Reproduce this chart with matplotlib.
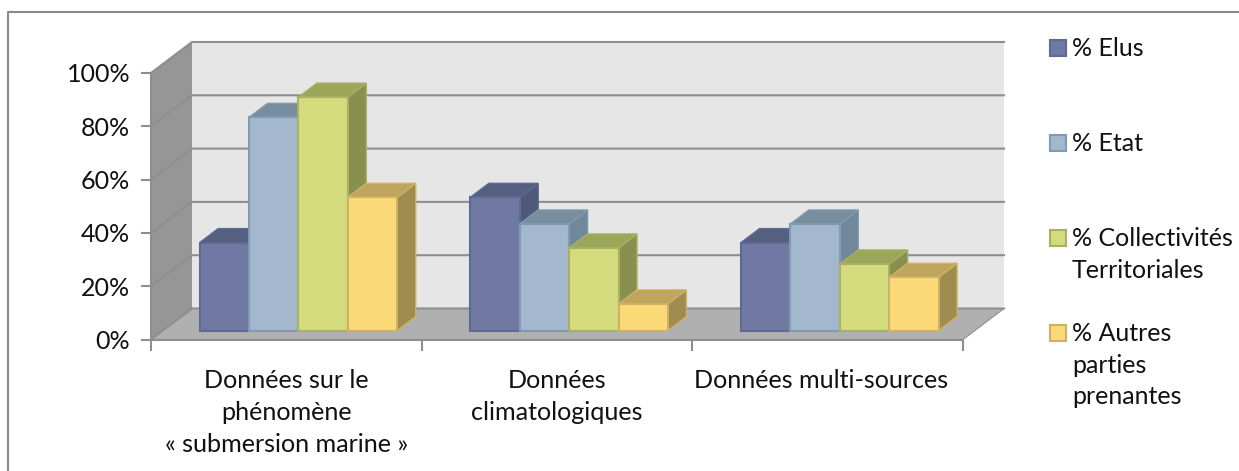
import matplotlib
matplotlib.use("Agg")
import matplotlib.pyplot as plt
from matplotlib.patches import Polygon, Rectangle

categories = ["Données sur le\nphénomène\n« submersion marine »", "Données\nclimatologiques", "Données multi-sources"]
series_names = ["% Elus", "% Etat", "% Collectivités\nTerritoriales", "% Autres\nparties\nprenantes"]
elus = [33, 50, 33]
etat = [80, 40, 40]
collectivites = [87.6, 31, 25]
autres = [50, 10, 20]
y_ticks = [0, 20, 40, 60, 80, 100]

series_values = [elus, etat, collectivites, autres]
front_colors = ["#7079A4", "#A3B8CF", "#D4DB7D", "#FCD977"]
edge_colors = ["#5F6A94", "#7F9BB2", "#A8B062", "#CDB265"]
top_colors = ["#555F80", "#788D9E", "#9CA65A", "#BFA55D"]
side_colors = ["#4F5878", "#71879A", "#89904F", "#A08C4E"]

W, H = 1239, 471
FX0, FX1, FY0, FY100 = 151, 963, 339.5, 73
DEPTH_X, DEPTH_Y = 41, 31

fig = plt.figure(figsize=(W / 100, H / 100), dpi=100, facecolor="white")
plt.rcParams["font.family"] = ["Lato", "DejaVu Sans"]
ax = fig.add_axes([FX0 / W, 1 - FY0 / H, (FX1 - FX0) / W, (FY0 - FY100) / H])
ax.set_xlim(0, 3)
ax.set_ylim(0, 100)
ax.patch.set_visible(False)

ux = (FX1 - FX0) / 3          # pixels per category
uy = (FY0 - FY100) / 100      # pixels per percent


def proj(x, y, d):
    """Project a front-plane point to depth fraction d (0 front, 1 back)."""
    return (x + d * DEPTH_X / ux, y + d * DEPTH_Y / uy)


def poly(pts, fc, ec="none", lw=0, z=1):
    ax.add_patch(Polygon(pts, closed=True, facecolor=fc, edgecolor=ec, linewidth=lw,
                         clip_on=False, zorder=z, joinstyle="miter"))


# walls and floor
poly([proj(0, 0, 1), proj(3, 0, 1), proj(3, 100, 1), proj(0, 100, 1)], "#E6E6E6", z=1)
poly([proj(0, 0, 0), proj(0, 0, 1), proj(0, 100, 1), proj(0, 100, 0)], "#969696", z=1)
poly([proj(0, 0, 0), proj(3, 0, 0), proj(3, 0, 1), proj(0, 0, 1)], "#B0B0B0", z=1)

GRID = "#8E8E8E"
for t in y_ticks:
    a, b, c = proj(0, t, 0), proj(0, t, 1), proj(3, t, 1)
    ax.plot([a[0], b[0], c[0]], [a[1], b[1], c[1]], color=GRID, lw=1.5, clip_on=False,
            zorder=2, solid_joinstyle="miter")
ax.plot([0, 3], [0, 0], color=GRID, lw=1.5, clip_on=False, zorder=2)
ax.plot([0, 0], [0, 100], color=GRID, lw=1.5, clip_on=False, zorder=2)
a, b = proj(3, 0, 0), proj(3, 0, 1)
ax.plot([a[0], b[0]], [a[1], b[1]], color=GRID, lw=0.8, clip_on=False, zorder=2)

# bars
GAP, BW = 0.136, 0.1825
D0, D1 = 0.29, 0.74
z = 3
for g in range(3):
    for s, vals in enumerate(series_values):
        x0 = g + GAP + s * BW
        x1 = x0 + BW
        v = vals[g]
        poly([proj(x1, 0, D0), proj(x1, 0, D1), proj(x1, v, D1), proj(x1, v, D0)],
             side_colors[s], edge_colors[s], 1.0, z)
        poly([proj(x0, v, D0), proj(x1, v, D0), proj(x1, v, D1), proj(x0, v, D1)],
             top_colors[s], edge_colors[s], 1.0, z)
        poly([proj(x0, 0, D0), proj(x1, 0, D0), proj(x1, v, D0), proj(x0, v, D0)],
             front_colors[s], edge_colors[s], 1.5, z + 0.5)
        z += 1

# axes
for sp in ax.spines.values():
    sp.set_visible(False)
ax.set_yticks(y_ticks)
ax.set_yticklabels([f"{t}%" for t in y_ticks], fontsize=18, color="#111111")
ax.tick_params(axis="y", length=7, width=1.5, color=GRID, pad=8)
ax.set_xticks([0, 1, 2, 3])
ax.set_xticklabels([])
ax.tick_params(axis="x", which="major", length=8, width=1.5, color=GRID)
ax.set_xticks([0.5, 1.5, 2.475], minor=True)
ax.set_xticklabels(categories, minor=True, fontsize=18.1, color="#111111", linespacing=1.47)
ax.tick_params(axis="x", which="minor", length=0, pad=21)

# legend
legend_y = [49, 144, 239, 334]
for name, fc, ec, ly in zip(series_names, front_colors, edge_colors, legend_y):
    fig.add_artist(Rectangle((1050 / W, 1 - (ly + 7) / H), 16 / W, 16 / H, transform=fig.transFigure,
                             facecolor=fc, edgecolor=ec, linewidth=1.5))
    fig.text(1072 / W, 1 - (ly - 12) / H, name, fontsize=18, color="#111111", va="top", ha="left",
             linespacing=1.45)

# outer frame
fig.add_artist(plt.Line2D([8 / W, 8 / W, 1], [0, 1 - 12 / H, 1 - 12 / H], transform=fig.transFigure,
                          color="#8A8A8A", lw=1.5))

fig.savefig("out.png", dpi=100, facecolor="white")
